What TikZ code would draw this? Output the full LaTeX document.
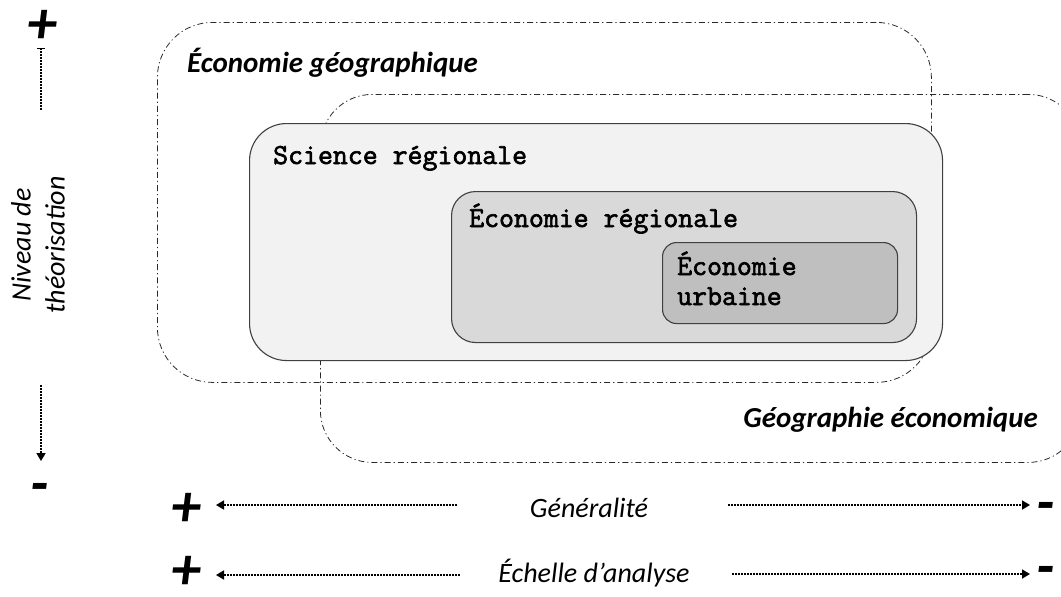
\documentclass[tikz,border=0pt]{standalone}
\usepackage{fontspec}
\setmainfont{Carlito}
\newfontfamily\codefont{Latin Modern Mono}[FakeBold=2.2]
\usetikzlibrary{arrows.meta}
\definecolor{boxline}{HTML}{404040}
\definecolor{fillA}{HTML}{F2F2F2}
\definecolor{fillB}{HTML}{D9D9D9}
\definecolor{fillC}{HTML}{BFBFBF}
\definecolor{dashline}{HTML}{2A2A2A}
\begin{document}
\begin{tikzpicture}[x=1pt,y=-1pt,
  field/.style={draw=dashline, line width=0.8pt,
    dash pattern=on 6pt off 3pt on 1.2pt off 3pt,
    rounded corners=#1, inner sep=0pt, anchor=north west},
  discipline/.style={draw=boxline, line width=1.1pt,
    rounded corners=#1, inner sep=0pt, anchor=north west},
  fieldlabel/.style={font=\fontsize{29}{34}\selectfont\bfseries\itshape, inner sep=0pt},
  disclabel/.style={font=\fontsize{29}{32}\selectfont\codefont, inner sep=0pt, anchor=base west},
  axislabel/.style={font=\fontsize{28}{34}\selectfont\itshape, inner sep=0pt},
  sign/.style={font=\fontsize{60}{60}\selectfont\bfseries\itshape, inner sep=0pt},
  dotarrow/.style={line width=1.7pt, dash pattern=on 1.7pt off 1.3pt},
  tip/.style={-{Triangle[width=9pt,length=8pt]}}
]
\useasboundingbox (0,0) rectangle (1061,597);

% overlapping fields (dash-dot outlines)
\node[field=55, minimum width=774pt, minimum height=360pt] (ecogeo) at (157,22) {};
\node[field=52, minimum width=760pt, minimum height=368pt] (geoeco) at (320,94) {};

% nested disciplines
\node[discipline=37, fill=fillA, minimum width=693pt, minimum height=237pt] (sci) at (249,123) {};
\node[discipline=24, fill=fillB, minimum width=465pt, minimum height=151pt] (ecoreg) at (451,191) {};
\node[discipline=14, fill=fillC, minimum width=235pt, minimum height=81pt] (ecourb) at (662,242) {};

% labels
\node[fieldlabel, anchor=base west] (ecogeoText) at (187,72) {Économie géographique};
\node[fieldlabel, anchor=base east] (geoecoText) at (1038,427) {Géographie économique};
\node[disclabel] (sciText) at (273,164) {Science régionale};
\node[disclabel] (ecoregText) at (469,227) {Économie régionale};
\node[disclabel] (ecourbTextA) at (677,275) {Économie};
\node[disclabel] (ecourbTextB) at (677,305) {urbaine};

% vertical axis: level of theorisation
\node[sign] (plusTop) at (42,27) {+};
\node[sign] (minusLeft) at (40,493) {-};
\node[axislabel, rotate=90, align=center] (theo) at (38,245) {Niveau de\\théorisation};
\coordinate (vUpA) at (41,110);
\coordinate (vUpB) at (41,48);
\coordinate (vDownA) at (41,385);
\coordinate (vDownB) at (41,461);
\draw[dotarrow, -{Bar[width=8pt,line width=1.4pt]}] (vUpA) -- (vUpB);
\draw[dotarrow, tip] (vDownA) -- (vDownB);

% horizontal axes
\node[axislabel] (gen) at (589,508) {Généralité};
\node[axislabel] (ech) at (594,573) {Échelle d’analyse};
\node[sign] (plusA) at (186,510) {+};
\node[sign] (plusB) at (186,573) {+};
\node[sign] (minusA) at (1046,512) {-};
\node[sign] (minusB) at (1046,576) {-};

\coordinate (g1) at (457,505);
\coordinate (g2) at (216,505);
\coordinate (g3) at (728,505);
\coordinate (g4) at (1030,505);
\coordinate (e1) at (460,575);
\coordinate (e2) at (216,575);
\coordinate (e3) at (732,574);
\coordinate (e4) at (1030,574);
\draw[dotarrow, tip] (g1) -- (g2);
\draw[dotarrow, tip] (g3) -- (g4);
\draw[dotarrow, tip] (e1) -- (e2);
\draw[dotarrow, tip] (e3) -- (e4);
\end{tikzpicture}
\end{document}
